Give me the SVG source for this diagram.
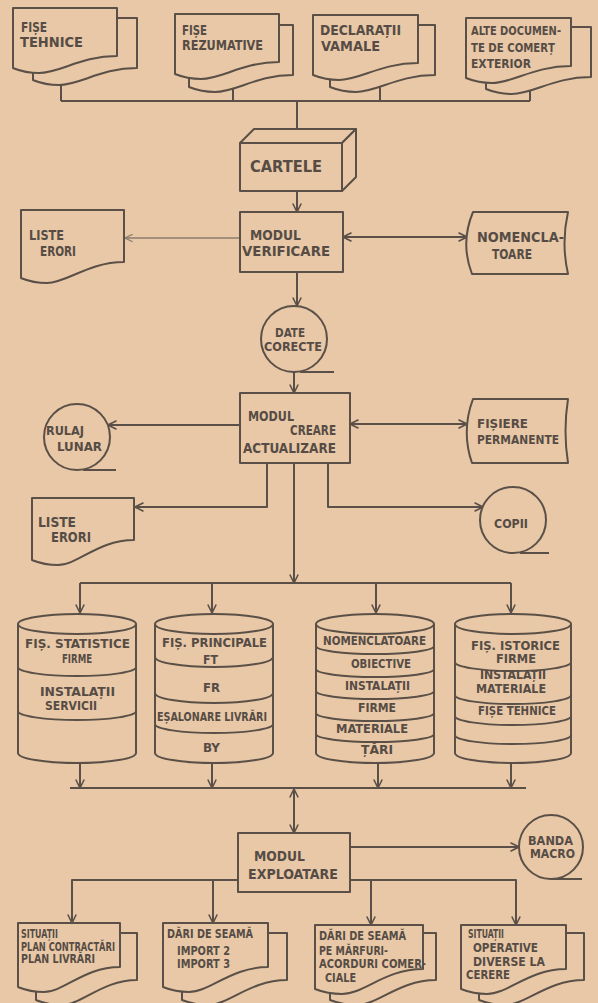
<svg xmlns="http://www.w3.org/2000/svg" width="598" height="1003" viewBox="0 0 598 1003">
<defs>
<style>
.bg{fill:#e8c8a6}
.ln{fill:none;stroke:#5b5048;stroke-width:2;stroke-linejoin:round}
.lt{fill:none;stroke:#8c7c6c;stroke-width:1.3}
.nd{fill:#e8c8a6;stroke:#5b5048;stroke-width:2;stroke-linejoin:round}
.dv{fill:none;stroke:#5b5048;stroke-width:2}
.t{font-family:"DejaVu Sans Condensed","Liberation Sans Narrow","Liberation Sans",sans-serif;fill:#564c45;font-size:14px;font-weight:bold}
.s14{font-size:15px}
.s12{font-size:13px}
.s115{font-size:12px}
.s11{font-size:11.5px}
</style>
<marker id="a" viewBox="0 0 10 10" refX="9.5" refY="5" markerWidth="10" markerHeight="10" markerUnits="userSpaceOnUse" orient="auto-start-reverse"><path d="M1,0.8 L9.5,5 L1,9.2" fill="none" stroke="#5b5048" stroke-width="1.6"/></marker>
<marker id="al" viewBox="0 0 10 10" refX="9.5" refY="5" markerWidth="9" markerHeight="9" markerUnits="userSpaceOnUse" orient="auto"><path d="M1,0.8 L9.5,5 L1,9.2" fill="none" stroke="#8c7c6c" stroke-width="1.3"/></marker>
</defs>
<rect class="bg" x="0" y="0" width="598" height="1003"/>

<g id="connectors">
<path class="ln" d="M61,84 V101 M233,84 V101 M380,84 V101 M530,84 V101 M61,101 H530 M297,101 V136"/>
<path class="ln" d="M297,191 V212" marker-end="url(#a)"/>
<path class="lt" d="M240,238 H125" marker-end="url(#al)"/>
<path class="ln" d="M343,237 H467" marker-start="url(#a)" marker-end="url(#a)"/>
<path class="ln" d="M297,272 V306" marker-end="url(#a)"/>
<path class="ln" d="M294,372 V393" marker-end="url(#a)"/>
<path class="ln" d="M240,425 H108" marker-end="url(#a)"/>
<path class="ln" d="M350,424 H467" marker-start="url(#a)" marker-end="url(#a)"/>
<path class="ln" d="M267,463 V507 H135" marker-end="url(#a)"/>
<path class="ln" d="M294,463 V583" marker-end="url(#a)"/>
<path class="ln" d="M328,463 V507 H483" marker-end="url(#a)"/>
<path class="ln" d="M80,583 H511"/>
<path class="ln" d="M80,583 V613" marker-end="url(#a)"/>
<path class="ln" d="M212,583 V613" marker-end="url(#a)"/>
<path class="ln" d="M376,583 V613" marker-end="url(#a)"/>
<path class="ln" d="M511,583 V613" marker-end="url(#a)"/>
<path class="ln" d="M80,763 V788" marker-end="url(#a)"/>
<path class="ln" d="M212,763 V788" marker-end="url(#a)"/>
<path class="ln" d="M378,763 V788" marker-end="url(#a)"/>
<path class="ln" d="M511,763 V788" marker-end="url(#a)"/>
<path class="ln" d="M70,788 H526"/>
<path class="ln" d="M294,789 V833" marker-start="url(#a)" marker-end="url(#a)"/>
<path class="ln" d="M350,847 H519" marker-end="url(#a)"/>
<path class="ln" d="M238,880 H72 V923" marker-end="url(#a)"/>
<path class="ln" d="M213,880 V923" marker-end="url(#a)"/>
<path class="ln" d="M350,880 H516 V925" marker-end="url(#a)"/>
<path class="ln" d="M371,880 V925" marker-end="url(#a)"/>
</g>

<g id="fise-tehnice">
<path class="nd" d="M33,18 H137 V68 C101,68 80,85 59,85 C45,85 38,82 33,80 Z"/>
<path class="nd" d="M13,8 H117 V56 C81,56 60,73 39,73 C25,73 18,70 13,68 Z"/>
<text class="t" x="21" y="32" textLength="26" lengthAdjust="spacingAndGlyphs">FIȘE</text>
<text class="t" x="20" y="47" textLength="63" lengthAdjust="spacingAndGlyphs">TEHNICE</text>
</g>
<g id="fise-rezumative">
<path class="nd" d="M189,25 H293 V75 C257,75 236,92 215,92 C202,92 194,89 189,87 Z"/>
<path class="nd" d="M175,14 H279 V62 C243,62 222,79 201,79 C188,79 180,76 175,74 Z"/>
<text class="t" x="182" y="35" textLength="25" lengthAdjust="spacingAndGlyphs">FIȘE</text>
<text class="t" x="182" y="50" textLength="81" lengthAdjust="spacingAndGlyphs">REZUMATIVE</text>
</g>
<g id="declaratii-vamale">
<path class="nd" d="M330,25 H435 V75 C398,75 377,92 356,92 C343,92 335,89 330,87 Z"/>
<path class="nd" d="M313,15 H418 V63 C381,63 360,80 339,80 C326,80 318,77 313,75 Z"/>
<text class="t" x="320" y="35" textLength="81" lengthAdjust="spacingAndGlyphs">DECLARAȚII</text>
<text class="t" x="321" y="51" textLength="59" lengthAdjust="spacingAndGlyphs">VAMALE</text>
</g>
<g id="alte-documente">
<path class="nd" d="M486,27 H591 V77 C554,77 533,94 512,94 C499,94 491,91 486,89 Z"/>
<path class="nd" d="M466,18 H571 V66 C534,66 513,83 492,83 C479,83 471,80 466,78 Z"/>
<text class="t s12" x="471" y="35" textLength="90" lengthAdjust="spacingAndGlyphs">ALTE DOCUMEN-</text>
<text class="t s12" x="471" y="52" textLength="84" lengthAdjust="spacingAndGlyphs">TE DE COMERȚ</text>
<text class="t s12" x="471" y="68" textLength="60" lengthAdjust="spacingAndGlyphs">EXTERIOR</text>
</g>

<g id="cartele">
<path class="nd" d="M240,143 L254,129 H356 L342,143 Z"/>
<path class="nd" d="M342,143 L356,129 V177 L342,191 Z"/>
<rect class="nd" x="240" y="143" width="102" height="48"/>
<text class="t s14" x="250" y="172" textLength="72" lengthAdjust="spacingAndGlyphs">CARTELE</text>
</g>

<g id="modul-verificare">
<rect class="nd" x="240" y="212" width="103" height="60"/>
<text class="t" x="250" y="240" textLength="51" lengthAdjust="spacingAndGlyphs">MODUL</text>
<text class="t" x="242" y="256" textLength="88" lengthAdjust="spacingAndGlyphs">VERIFICARE</text>
</g>

<g id="liste-erori-1">
<path class="nd" d="M21,210 H124 V262 C88,262 67,283 47,283 C33,283 26,280 21,278 Z"/>
<text class="t" x="29" y="240" textLength="35" lengthAdjust="spacingAndGlyphs">LISTE</text>
<text class="t" x="40" y="256" textLength="36" lengthAdjust="spacingAndGlyphs">ERORI</text>
</g>

<g id="nomenclatoare">
<path class="nd" d="M473,212 H568 Q561,243 568,274 H472 Q460,243 473,212 Z"/>
<text class="t" x="477" y="242" textLength="87" lengthAdjust="spacingAndGlyphs">NOMENCLA-</text>
<text class="t" x="492" y="259" textLength="40" lengthAdjust="spacingAndGlyphs">TOARE</text>
</g>

<g id="date-corecte">
<circle class="nd" cx="294" cy="339" r="33"/>
<path class="ln" d="M300,372 H334"/>
<text class="t s12" x="275" y="337" textLength="30" lengthAdjust="spacingAndGlyphs">DATE</text>
<text class="t s12" x="264" y="351" textLength="58" lengthAdjust="spacingAndGlyphs">CORECTE</text>
</g>

<g id="modul-creare">
<rect class="nd" x="240" y="393" width="110" height="70"/>
<text class="t" x="248" y="421" textLength="46" lengthAdjust="spacingAndGlyphs">MODUL</text>
<text class="t" x="290" y="435" textLength="46" lengthAdjust="spacingAndGlyphs">CREARE</text>
<text class="t" x="243" y="453" textLength="93" lengthAdjust="spacingAndGlyphs">ACTUALIZARE</text>
</g>

<g id="rulaj-lunar">
<circle class="nd" cx="77" cy="437" r="33"/>
<path class="ln" d="M83,470 H116"/>
<text class="t s12" x="46" y="435" textLength="38" lengthAdjust="spacingAndGlyphs">RULAJ</text>
<text class="t s12" x="57" y="451" textLength="45" lengthAdjust="spacingAndGlyphs">LUNAR</text>
</g>

<g id="fisiere-permanente">
<path class="nd" d="M473,399 H568 Q563,431 568,463 H472 Q461,431 473,399 Z"/>
<text class="t s12" x="477" y="428" textLength="51" lengthAdjust="spacingAndGlyphs">FIȘIERE</text>
<text class="t s12" x="477" y="444" textLength="82" lengthAdjust="spacingAndGlyphs">PERMANENTE</text>
</g>

<g id="liste-erori-2">
<path class="nd" d="M32,498 H134 V540 C98,540 78,565 58,565 C44,565 37,562 32,560 Z"/>
<text class="t" x="38" y="527" textLength="38" lengthAdjust="spacingAndGlyphs">LISTE</text>
<text class="t" x="51" y="542" textLength="40" lengthAdjust="spacingAndGlyphs">ERORI</text>
</g>

<g id="copii">
<circle class="nd" cx="513" cy="520" r="33"/>
<path class="ln" d="M520,553 H549"/>
<text class="t s12" x="494" y="528" textLength="34" lengthAdjust="spacingAndGlyphs">COPII</text>
</g>

<g id="db-statistice">
<path class="nd" d="M18,624 V753 A59,10 0 0 0 136,753 V624"/>
<ellipse class="nd" cx="77" cy="624" rx="59" ry="10"/>
<path class="dv" d="M18,667 A59,9 0 0 0 136,667 M18,711 A59,9 0 0 0 136,711"/>
<text class="t s12" x="25" y="648" textLength="105" lengthAdjust="spacingAndGlyphs">FIȘ. STATISTICE</text>
<text class="t s12" x="62" y="663" textLength="30" lengthAdjust="spacingAndGlyphs">FIRME</text>
<text class="t s12" x="40" y="696" textLength="75" lengthAdjust="spacingAndGlyphs">INSTALAȚII</text>
<text class="t s12" x="45" y="710" textLength="52" lengthAdjust="spacingAndGlyphs">SERVICII</text>
</g>

<g id="db-principale">
<path class="nd" d="M155,624 V753 A59,10 0 0 0 273,753 V624"/>
<ellipse class="nd" cx="214" cy="624" rx="59" ry="10"/>
<path class="dv" d="M155,657 A59,10 0 0 0 273,657 M155,693 A59,10 0 0 0 273,693 M155,724 A59,9 0 0 0 273,724"/>
<text class="t s12" x="162" y="647" textLength="105" lengthAdjust="spacingAndGlyphs">FIȘ. PRINCIPALE</text>
<text class="t s12" x="203" y="664" textLength="15" lengthAdjust="spacingAndGlyphs">FT</text>
<text class="t s12" x="203" y="692" textLength="17" lengthAdjust="spacingAndGlyphs">FR</text>
<text class="t s12" x="157" y="721" textLength="110" lengthAdjust="spacingAndGlyphs">EȘALONARE LIVRĂRI</text>
<text class="t s12" x="203" y="752" textLength="17" lengthAdjust="spacingAndGlyphs">BY</text>
</g>

<g id="db-nomenclatoare">
<path class="nd" d="M316,624 V753 A59,10 0 0 0 434,753 V624"/>
<ellipse class="nd" cx="375" cy="624" rx="59" ry="10"/>
<path class="dv" d="M316,646 A59,8 0 0 0 434,646 M316,669 A59,8 0 0 0 434,669 M316,691 A59,8 0 0 0 434,691 M316,713 A59,8 0 0 0 434,713 M316,734 A59,8 0 0 0 434,734"/>
<text class="t s12" x="323" y="645" textLength="103" lengthAdjust="spacingAndGlyphs">NOMENCLATOARE</text>
<text class="t s12" x="351" y="668" textLength="60" lengthAdjust="spacingAndGlyphs">OBIECTIVE</text>
<text class="t s12" x="345" y="690" textLength="65" lengthAdjust="spacingAndGlyphs">INSTALAȚII</text>
<text class="t s12" x="358" y="712" textLength="38" lengthAdjust="spacingAndGlyphs">FIRME</text>
<text class="t s12" x="336" y="733" textLength="72" lengthAdjust="spacingAndGlyphs">MATERIALE</text>
<text class="t s12" x="361" y="754" textLength="32" lengthAdjust="spacingAndGlyphs">ȚĂRI</text>
</g>

<g id="db-istorice">
<path class="nd" d="M455,624 V753 A58,10 0 0 0 571,753 V624"/>
<ellipse class="nd" cx="513" cy="624" rx="58" ry="10"/>
<path class="dv" d="M455,662 A58,9 0 0 0 571,662 M455,695 A58,9 0 0 0 571,695 M455,716 A58,9 0 0 0 571,716 M455,735 A58,9 0 0 0 571,735"/>
<text class="t s12" x="471" y="650" textLength="89" lengthAdjust="spacingAndGlyphs">FIȘ. ISTORICE</text>
<text class="t s12" x="496" y="663" textLength="40" lengthAdjust="spacingAndGlyphs">FIRME</text>
<text class="t s115" x="480" y="679" textLength="66" lengthAdjust="spacingAndGlyphs">INSTALAȚII</text>
<text class="t s115" x="476" y="693" textLength="70" lengthAdjust="spacingAndGlyphs">MATERIALE</text>
<text class="t s12" x="478" y="715" textLength="78" lengthAdjust="spacingAndGlyphs">FIȘE TEHNICE</text>
</g>

<g id="modul-exploatare">
<rect class="nd" x="238" y="833" width="112" height="59"/>
<text class="t" x="254" y="861" textLength="51" lengthAdjust="spacingAndGlyphs">MODUL</text>
<text class="t" x="248" y="879" textLength="90" lengthAdjust="spacingAndGlyphs">EXPLOATARE</text>
</g>

<g id="banda-macro">
<circle class="nd" cx="551" cy="847" r="32"/>
<path class="ln" d="M551,879 H582"/>
<text class="t s11" x="528" y="845" textLength="45" lengthAdjust="spacingAndGlyphs">BANDA</text>
<text class="t s11" x="530" y="858" textLength="45" lengthAdjust="spacingAndGlyphs">MACRO</text>
</g>

<g id="situatii-plan">
<path class="nd" d="M36,933 H137 V980 C102,980 82,1005 61,1005 C48,1005 41,1002 36,1000 Z"/>
<path class="nd" d="M18,923 H120 V967 C84,967 64,992 44,992 C30,992 23,989 18,987 Z"/>
<text class="t s11" x="21" y="938" textLength="37" lengthAdjust="spacingAndGlyphs">SITUAȚII</text>
<text class="t s11" x="21" y="951" textLength="94" lengthAdjust="spacingAndGlyphs">PLAN CONTRACTĂRI</text>
<text class="t s11" x="21" y="963" textLength="74" lengthAdjust="spacingAndGlyphs">PLAN LIVRĂRI</text>
</g>

<g id="dari-import">
<path class="nd" d="M182,933 H287 V980 C250,980 229,1005 208,1005 C195,1005 187,1002 182,1000 Z"/>
<path class="nd" d="M163,923 H268 V967 C231,967 210,992 189,992 C176,992 168,989 163,987 Z"/>
<text class="t s11" x="167" y="938" textLength="86" lengthAdjust="spacingAndGlyphs">DĂRI DE SEAMĂ</text>
<text class="t s11" x="177" y="955" textLength="53" lengthAdjust="spacingAndGlyphs">IMPORT 2</text>
<text class="t s11" x="177" y="968" textLength="53" lengthAdjust="spacingAndGlyphs">IMPORT 3</text>
</g>

<g id="dari-marfuri">
<path class="nd" d="M330,933 H436 V980 C399,980 378,1005 357,1005 C343,1005 335,1002 330,1000 Z"/>
<path class="nd" d="M315,925 H423 V969 C385,969 364,994 342,994 C328,994 320,991 315,989 Z"/>
<text class="t s11" x="319" y="940" textLength="87" lengthAdjust="spacingAndGlyphs">DĂRI DE SEAMĂ</text>
<text class="t s11" x="319" y="955" textLength="69" lengthAdjust="spacingAndGlyphs">PE MĂRFURI-</text>
<text class="t s11" x="319" y="968" textLength="107" lengthAdjust="spacingAndGlyphs">ACORDURI COMER-</text>
<text class="t s11" x="325" y="982" textLength="31" lengthAdjust="spacingAndGlyphs">CIALE</text>
</g>

<g id="situatii-operative">
<path class="nd" d="M479,933 H584 V980 C547,980 526,1005 505,1005 C492,1005 484,1002 479,1000 Z"/>
<path class="nd" d="M461,925 H566 V969 C529,969 508,994 487,994 C474,994 466,991 461,989 Z"/>
<text class="t s11" x="468" y="938" textLength="36" lengthAdjust="spacingAndGlyphs">SITUAȚII</text>
<text class="t s11" x="473" y="952" textLength="65" lengthAdjust="spacingAndGlyphs">OPERATIVE</text>
<text class="t s11" x="473" y="966" textLength="72" lengthAdjust="spacingAndGlyphs">DIVERSE LA</text>
<text class="t s11" x="466" y="979" textLength="44" lengthAdjust="spacingAndGlyphs">CERERE</text>
</g>
</svg>
